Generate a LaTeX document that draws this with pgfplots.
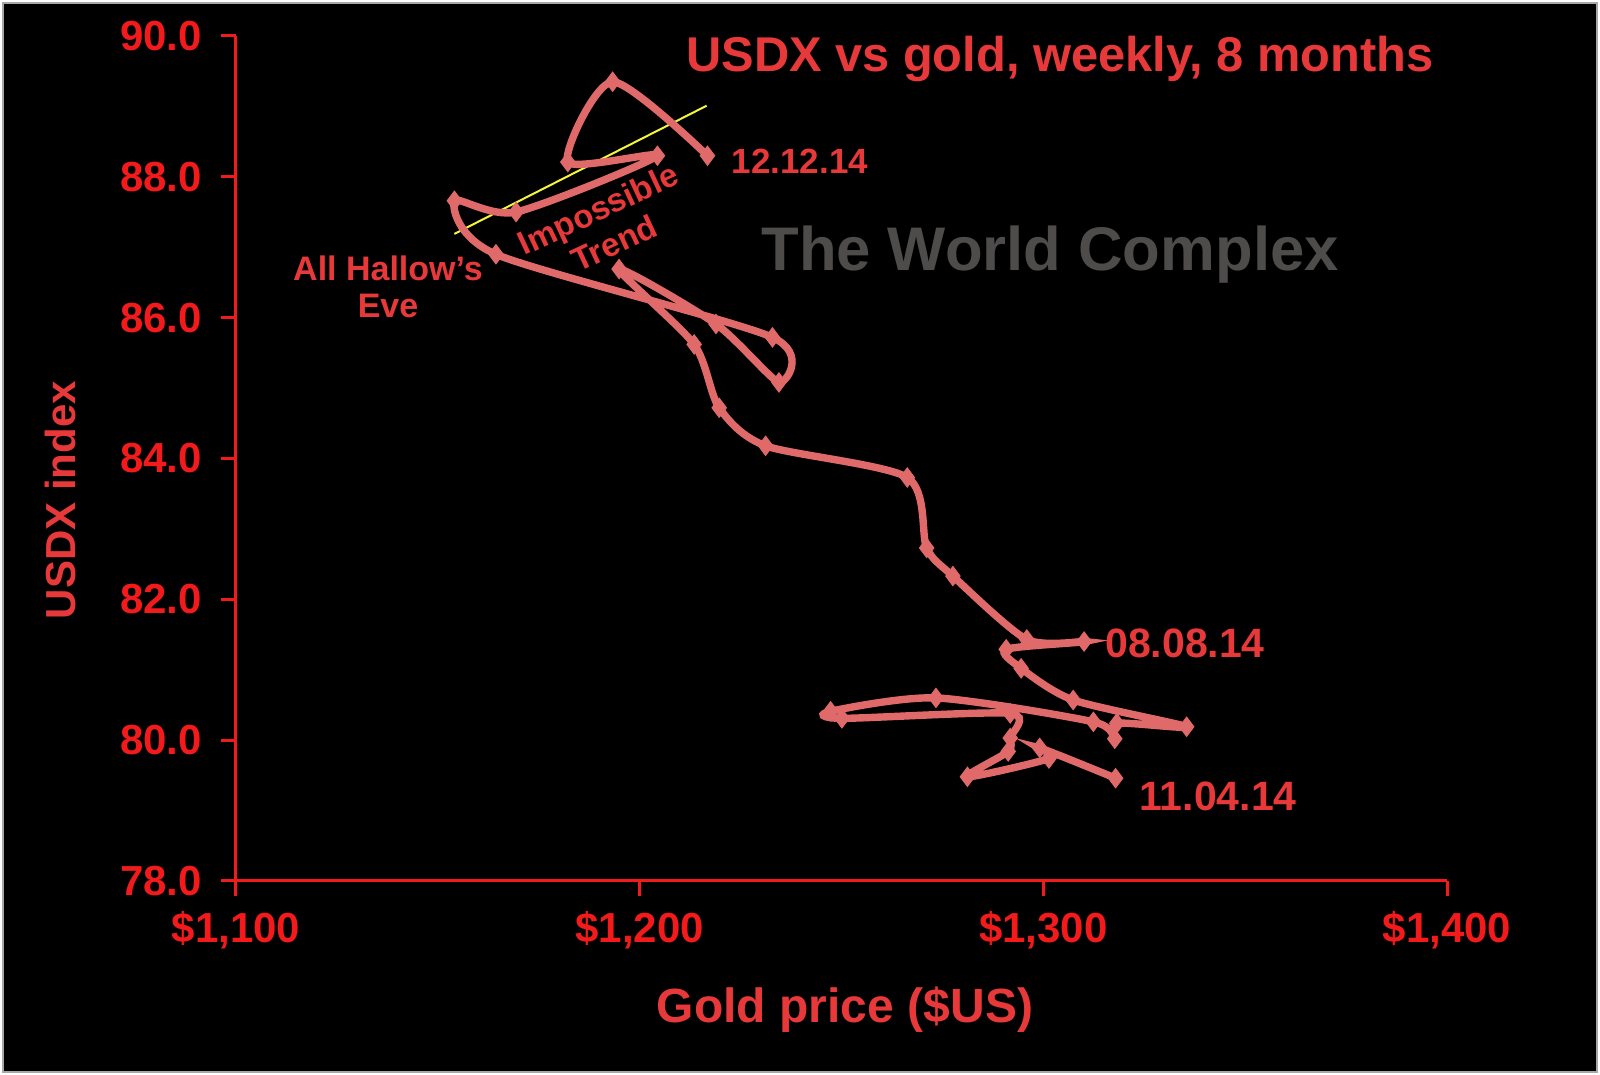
\documentclass[border=0pt]{standalone}
\usepackage{fontspec}
\setmainfont{Liberation Sans}
\usepackage{pgfplots}
\usepackage{pgfplotstable}
\pgfplotsset{compat=1.18}
\definecolor{axisred}{HTML}{F21A1A}
\definecolor{txtred}{HTML}{E8393A}
\definecolor{linered}{HTML}{E06A6A}
\definecolor{wcgray}{HTML}{4E4C4A}
\definecolor{framegray}{HTML}{A8A8A8}
\definecolor{trendyellow}{HTML}{F5F53A}

% weekly USDX vs gold, 11.04.14 -> 12.12.14
\pgfplotstableread{
x y
1317.9 79.46
1299.1 79.89
1301.4 79.74
1281.2 79.48
1291.3 79.84
1291.8 80.03
1291.8 80.38
1250.1 80.31
1247.3 80.41
1273.4 80.60
1312.4 80.26
1317.7 80.02
1318.2 80.24
1335.5 80.19
1307.4 80.57
1294.5 81.02
1290.8 81.29
1310.1 81.40
1295.9 81.43
1277.6 82.33
1271.1 82.73
1266.3 83.73
1231.2 84.18
1219.7 84.72
1213.5 85.62
1194.9 86.69
1218.9 85.91
1234.5 85.08
1232.9 85.72
1164.4 86.90
1154.1 87.66
1169.4 87.50
1204.4 88.30
1182.2 88.21
1193.3 89.35
1216.8 88.30
}\golddata

\begin{document}
\begin{tikzpicture}
\fill[white] (-118pt,-97pt) rectangle (682pt,440.5pt);
\fill[black] (-116.5pt,-95.5pt) rectangle (680.5pt,439pt);
\draw[framegray, line width=1.2pt] (-116.5pt,-95.5pt) rectangle (680.5pt,439pt);
\begin{axis}[
  scale only axis, width=605.5pt, height=422.5pt,
  xmin=1100, xmax=1400, ymin=78, ymax=90,
  axis x line*=bottom, axis y line*=left,
  axis line style={-, draw=axisred, line width=1.5pt},
  xtick={1100,1200,1300,1400},
  xticklabels={{\$1,100},{\$1,200},{\$1,300},{\$1,400}},
  ytick={78,80,82,84,86,88,90},
  minor tick num=0,
  tick align=outside,
  major tick length=7.5pt,
  tick style={draw=axisred, line width=1.5pt},
  /pgf/number format/assume math mode=true,
  ticklabel style={font=\fontsize{21}{21}\selectfont\bfseries, text=axisred},
  xticklabel style={yshift=-4pt},
  yticklabel style={xshift=-6pt, /pgf/number format/fixed, /pgf/number format/fixed zerofill, /pgf/number format/precision=1},
]
\addplot[trendyellow, line width=1pt] coordinates {(1154.1,87.19) (1216.6,89.01)};
\addplot[linered, line width=3.7pt, smooth, tension=0.45,
  mark=diamond*, mark size=4.8pt, mark options={fill=linered, draw=linered, line width=0.5pt}]
  table[x=x, y=y] {\golddata};
\end{axis}
\node[text=txtred, font=\fontsize{24.4}{24.4}\selectfont\bfseries] at (412pt,411pt) {USDX vs gold, weekly, 8 months};
\node[text=wcgray, font=\fontsize{30.8}{30.8}\selectfont\bfseries] at (407pt,313pt) {The World Complex};
\node[text=txtred, font=\fontsize{24}{24}\selectfont\bfseries] at (304.5pt,-64.5pt) {Gold price (\$US)};
\node[text=txtred, font=\fontsize{21}{21}\selectfont\bfseries, rotate=90] at (-88pt,190.5pt) {USDX index};
\node[text=txtred, font=\fontsize{17.5}{17.5}\selectfont\bfseries] at (282pt,360pt) {12.12.14};
\node[text=txtred, font=\fontsize{20.5}{20.5}\selectfont\bfseries] at (474.5pt,119pt) {08.08.14};
\node[text=txtred, font=\fontsize{20.5}{20.5}\selectfont\bfseries] at (491pt,42.5pt) {11.04.14};
\node[text=txtred, font=\fontsize{17}{18.5}\selectfont\bfseries, align=center] at (76pt,297pt) {All Hallow’s\\Eve};
\node[text=txtred, font=\fontsize{16.5}{19}\selectfont\bfseries, align=center, rotate=25] at (185pt,327.5pt) {Impossible\\Trend};
\end{tikzpicture}
\end{document}
